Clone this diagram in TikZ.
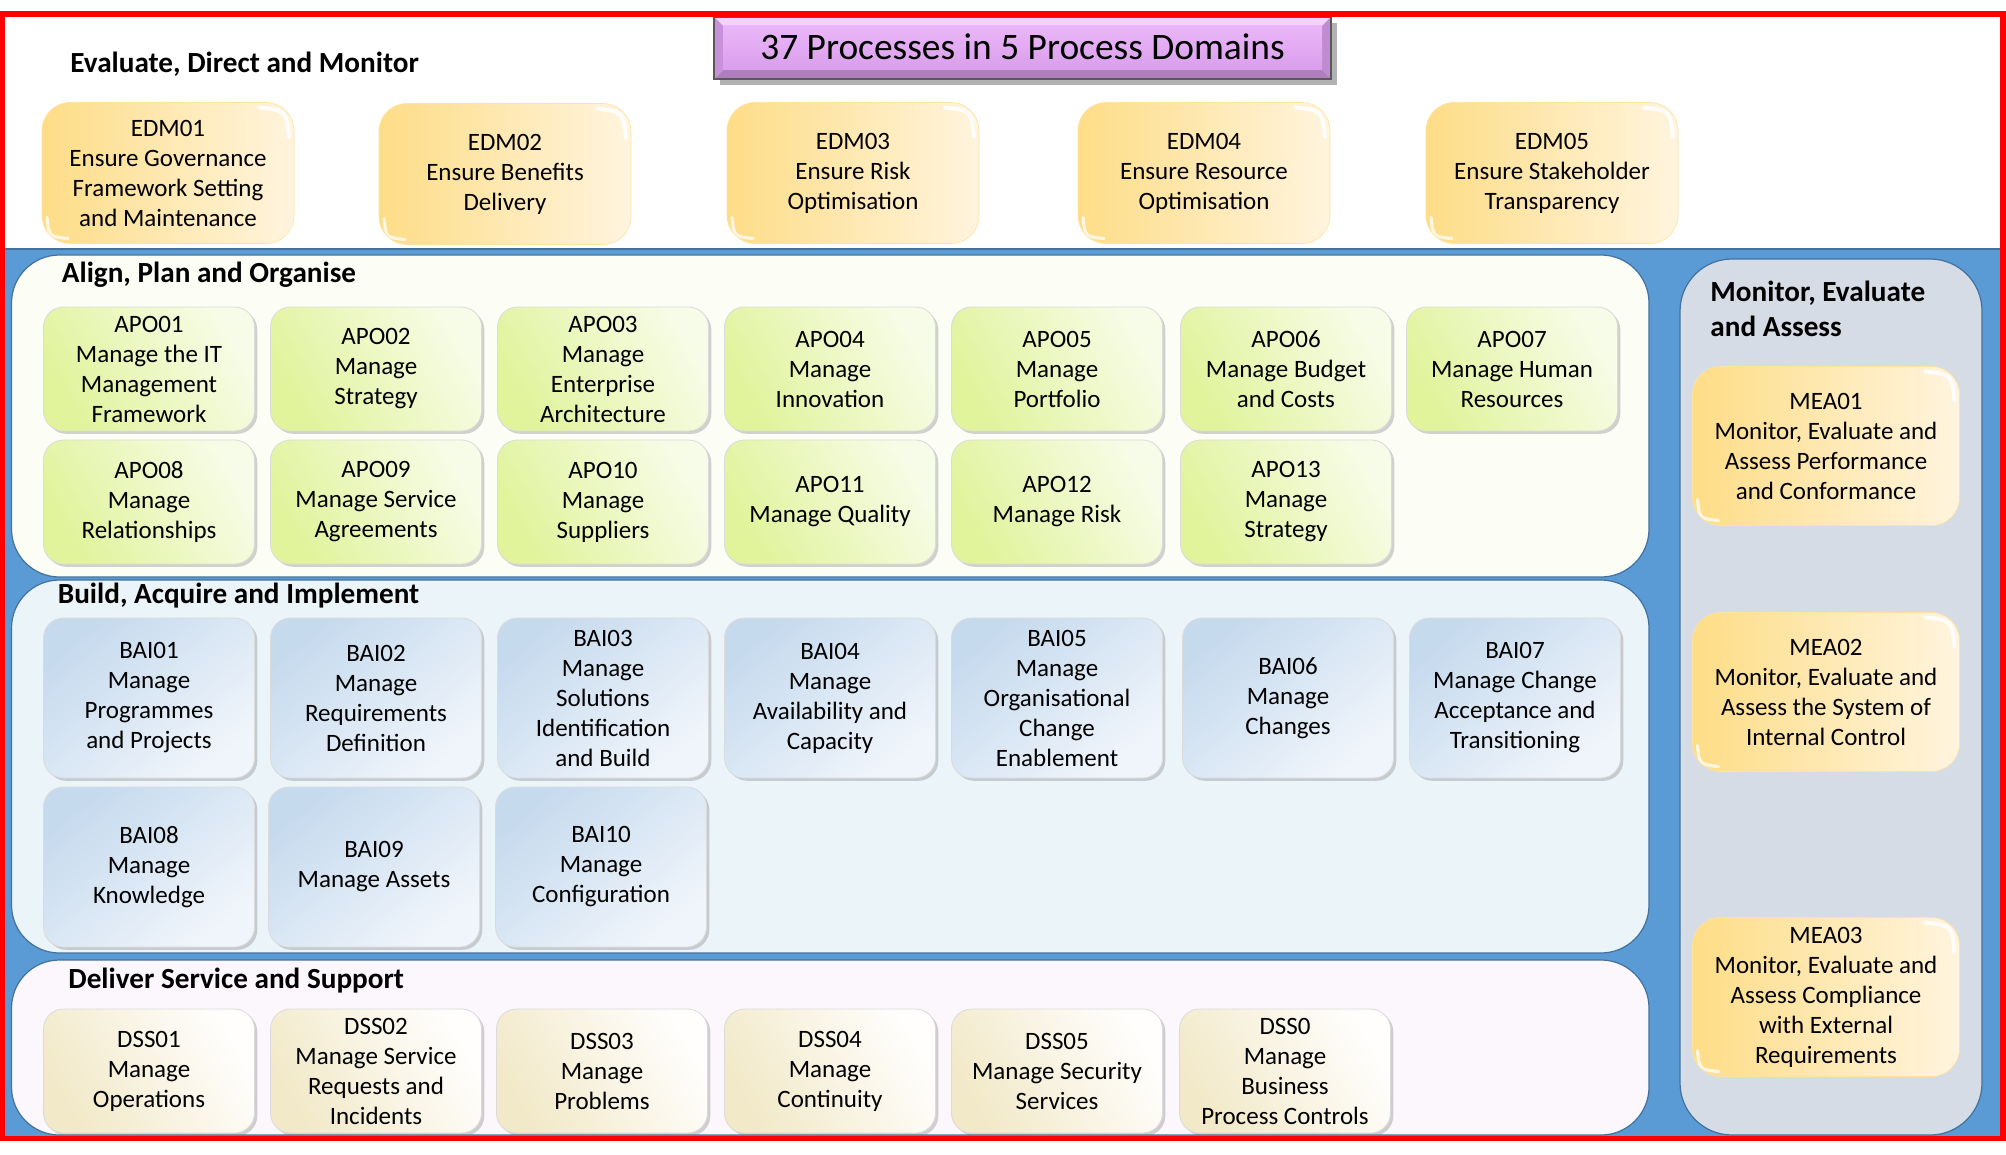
\documentclass[tikz,border=0pt]{standalone}
\usepackage{fontspec}
\setmainfont{Carlito}
\usetikzlibrary{shadows,calc}
\definecolor{redb}{HTML}{FF0000}
\definecolor{blueb}{HTML}{5B9BD5}
\definecolor{bluedk}{HTML}{41719C}
\definecolor{edmL}{HTML}{FEDD87}
\definecolor{edmR}{HTML}{FFF4DE}
\definecolor{apoL}{HTML}{E1F39B}
\definecolor{apoR}{HTML}{F7FCE8}
\definecolor{baiL}{HTML}{C6DAEE}
\definecolor{baiR}{HTML}{F0F5FB}
\definecolor{dssL}{HTML}{F2E9C8}
\definecolor{dssR}{HTML}{FFFEFD}
\definecolor{apoP}{HTML}{FCFDF5}
\definecolor{baiP}{HTML}{EBF4F8}
\definecolor{dssP}{HTML}{FCF7FC}
\definecolor{meaP}{HTML}{D5DCE6}
\definecolor{ttlTop}{HTML}{EAB6F8}
\definecolor{ttlBot}{HTML}{DA9EEC}
\tikzset{
  boxtext/.style={align=center,font=\fontsize{12.5}{15}\selectfont,text=black},
  glossy/.style={path picture={
    \draw[white,opacity=.9,line width=2pt,line cap=round]
      ([shift={(-17pt,-2.5pt)}]path picture bounding box.north east) .. controls
      ([shift={(-4pt,-4pt)}]path picture bounding box.north east) ..
      ([shift={(-2.5pt,-17pt)}]path picture bounding box.north east);
    \draw[white,opacity=.75,line width=1.6pt,line cap=round]
      ([shift={(2.5pt,13pt)}]path picture bounding box.south west) .. controls
      ([shift={(3.5pt,3.5pt)}]path picture bounding box.south west) ..
      ([shift={(13pt,2.5pt)}]path picture bounding box.south west);
  }},
  edmbox/.style={boxtext,rounded corners=14pt,minimum width=126pt,minimum height=70.5pt,
    left color=edmL,right color=edmR,draw=edmL!80!white,line width=0.3pt,glossy},
  meabox/.style={edmbox,minimum width=133.5pt,minimum height=79.5pt},
  smallbox/.style={boxtext,rounded corners=10pt,minimum width=105.5pt,line width=0.4pt,
    drop shadow={opacity=0.35,shadow xshift=1.4pt,shadow yshift=-1.4pt}},
  apobox/.style={smallbox,minimum height=62pt,shading=axis,top color=apoR,bottom color=apoL,
    shading angle=-60,draw=black!14},
  baibox/.style={smallbox,minimum height=80pt,shading=axis,top color=baiL,bottom color=baiR,
    shading angle=40,draw=black!14},
  dssbox/.style={smallbox,minimum height=62pt,shading=axis,top color=dssR,bottom color=dssL,
    shading angle=-60,draw=black!14},
  panelline/.style={draw=bluedk,line width=0.6pt},
  heading/.style={anchor=west,font=\bfseries\fontsize{14.6}{18}\selectfont,text=black,inner sep=0pt},
}
\begin{document}
\begin{tikzpicture}[x=0.5pt,y=-0.5pt]
\useasboundingbox (0,0) rectangle (2006,1155);
\fill[white] (0,0) rectangle (2006,1155);
% blue band
\fill[blueb] (4,248) rectangle (2002,1138);
\draw[bluedk,line width=1.3pt] (4,249) -- (2002,249);
% panels
\draw[panelline,fill=apoP,rounded corners=24pt] (11.5,255) rectangle (1649,577);
\draw[panelline,fill=baiP,rounded corners=24pt] (11.5,580) rectangle (1649,953);
\draw[panelline,fill=dssP,rounded corners=24pt] (11.5,960) rectangle (1649,1135);
\draw[panelline,fill=meaP,rounded corners=26pt] (1680,259) rectangle (1982,1135);
% title
\fill[black!55,opacity=.55] (720,23) rectangle (1337,85);
\fill[ttlBot] (714,17) rectangle (1331,79);
\fill[ttlTop!60!white] (714,17) -- (1331,17) -- (1322,26) -- (723,26) -- cycle;
\fill[ttlBot!80!black] (714,79) -- (1331,79) -- (1322,70) -- (723,70) -- cycle;
\fill[ttlBot!92!black] (714,17) -- (723,26) -- (723,70) -- (714,79) -- cycle;
\fill[ttlBot!88!black] (1331,17) -- (1322,26) -- (1322,70) -- (1331,79) -- cycle;
\shade[top color=ttlTop,bottom color=ttlBot] (723,26) rectangle (1322,70);
\draw[black!65,line width=0.7pt] (714,17) rectangle (1331,79);
\node[font=\fontsize{18.7}{21}\selectfont] (title) at (1022.5,47) {37 Processes in 5 Process Domains};
% headings
\node[heading] (hedm) at (70,64) {Evaluate, Direct and Monitor};
\node[heading] (hapo) at (61.5,275) {Align, Plan and Organise};
\node[heading] (hbai) at (57.5,596) {Build, Acquire and Implement};
\node[heading] (hdss) at (68,981) {Deliver Service and Support};
\node[heading,align=left,anchor=north west,font=\bfseries\fontsize{14.6}{17.5}\selectfont] (hmea) at (1710,281) {Monitor, Evaluate\\and Assess};
% EDM
\node[edmbox] (edm1) at (168,173) {EDM01\\Ensure Governance\\Framework Setting\\and Maintenance};
\node[edmbox] (edm2) at (505,174) {EDM02\\Ensure Benefits\\Delivery};
\node[edmbox] (edm3) at (853,173) {EDM03\\Ensure Risk\\Optimisation};
\node[edmbox] (edm4) at (1204,173) {EDM04\\Ensure Resource\\Optimisation};
\node[edmbox] (edm5) at (1552,173) {EDM05\\Ensure Stakeholder\\Transparency};
% APO
\node[apobox] (apo1) at (149,369) {APO01\\Manage the IT\\Management\\Framework};
\node[apobox] (apo2) at (376,369) {APO02\\Manage\\Strategy};
\node[apobox] (apo3) at (603,369) {APO03\\Manage\\Enterprise\\Architecture};
\node[apobox] (apo4) at (830,369) {APO04\\Manage\\Innovation};
\node[apobox] (apo5) at (1057,369) {APO05\\Manage\\Portfolio};
\node[apobox] (apo6) at (1286,369) {APO06\\Manage Budget\\and Costs};
\node[apobox] (apo7) at (1512,369) {APO07\\Manage Human\\Resources};
\node[apobox] (apo8) at (149,502) {APO08\\Manage\\Relationships};
\node[apobox] (apo9) at (376,502) {APO09\\Manage Service\\Agreements};
\node[apobox] (apo10) at (603,502) {APO10\\Manage\\Suppliers};
\node[apobox] (apo11) at (830,502) {APO11\\Manage Quality};
\node[apobox] (apo12) at (1057,502) {APO12\\Manage Risk};
\node[apobox] (apo13) at (1286,502) {APO13\\Manage\\Strategy};
% BAI
\node[baibox] (bai1) at (149,698) {BAI01\\Manage\\Programmes\\and Projects};
\node[baibox] (bai2) at (376,698) {BAI02\\Manage\\Requirements\\Definition};
\node[baibox] (bai3) at (603,698) {BAI03\\Manage\\Solutions\\Identification\\and Build};
\node[baibox] (bai4) at (830,698) {BAI04\\Manage\\Availability and\\Capacity};
\node[baibox] (bai5) at (1057,698) {BAI05\\Manage\\Organisational\\Change\\Enablement};
\node[baibox] (bai6) at (1288,698) {BAI06\\Manage\\Changes};
\node[baibox] (bai7) at (1515,698) {BAI07\\Manage Change\\Acceptance and\\Transitioning};
\node[baibox] (bai8) at (149,867) {BAI08\\Manage\\Knowledge};
\node[baibox] (bai9) at (374,867) {BAI09\\Manage Assets};
\node[baibox] (bai10) at (601,867) {BAI10\\Manage\\Configuration};
% DSS
\node[dssbox] (dss1) at (149,1071) {DSS01\\Manage\\Operations};
\node[dssbox] (dss2) at (376,1071) {DSS02\\Manage Service\\Requests and\\Incidents};
\node[dssbox] (dss3) at (602,1071) {DSS03\\Manage\\Problems};
\node[dssbox] (dss4) at (830,1071) {DSS04\\Manage\\Continuity};
\node[dssbox] (dss5) at (1057,1071) {DSS05\\Manage Security\\Services};
\node[dssbox] (dss6) at (1285,1071) {DSS0\\Manage\\Business\\Process Controls};
% MEA
\node[meabox] (mea1) at (1826,446) {MEA01\\Monitor, Evaluate and\\Assess Performance\\and Conformance};
\node[meabox] (mea2) at (1826,692) {MEA02\\Monitor, Evaluate and\\Assess the System of\\Internal Control};
\node[meabox] (mea3) at (1826,997) {MEA03\\Monitor, Evaluate and\\Assess Compliance\\with External\\Requirements};
% red frame
\draw[redb,line width=2.8pt] (2.5,14) rectangle (2003,1138.5);
\fill[white] (0,1141) rectangle (2006,1155);
\end{tikzpicture}
\end{document}
